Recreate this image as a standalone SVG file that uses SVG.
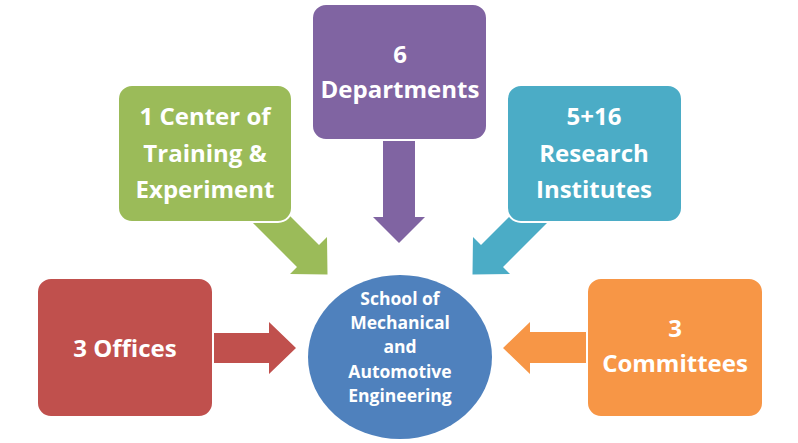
<svg xmlns="http://www.w3.org/2000/svg" width="798" height="443" viewBox="0 0 798 443">
<style>
.box{stroke:#ffffff;stroke-width:2}
.t{font-family:"Open Sans","Liberation Sans",sans-serif;font-weight:bold;font-size:24px;fill:#ffffff;text-anchor:middle}
.c{font-size:17.5px}
</style>
<rect width="798" height="443" fill="#ffffff"/>
<g id="connectors">
<polygon points="250,220 272,198 319,245 327,237 327.5,274.5 290,274 297,267" fill="#9BBB59"/>
<polygon points="550,220 528,198 481,245 473,237 472.5,274.5 510,274 503,267" fill="#4BACC6"/>
<polygon points="383,130 415,130 415,217 425,217 399,243 373,217 383,217" fill="#8064A2"/>
<polygon points="205,333 269,333 269,322 296,348 269,374 269,363 205,363" fill="#C0504D"/>
<polygon points="595,332 530,332 530,322 503,348 530,374 530,363 595,363" fill="#F79646"/>
</g>
<g id="center">
<ellipse cx="400" cy="357" rx="92" ry="82" fill="#4F81BD"/>
<text class="t c" x="400" y="305">School of</text>
<text class="t c" x="400" y="329">Mechanical</text>
<text class="t c" x="400" y="353">and</text>
<text class="t c" x="400" y="378">Automotive</text>
<text class="t c" x="400" y="402">Engineering</text>
</g>
<g id="center-training">
<rect class="box" x="118" y="85" width="174" height="137" rx="14" fill="#9BBB59"/>
<text class="t" x="205" y="125">1 Center of</text>
<text class="t" x="205" y="162">Training &amp;</text>
<text class="t" x="205" y="198">Experiment</text>
</g>
<g id="departments">
<rect class="box" x="312" y="4" width="175" height="136" rx="14" fill="#8064A2"/>
<text class="t" x="400" y="63">6</text>
<text class="t" x="400" y="98">Departments</text>
</g>
<g id="institutes">
<rect class="box" x="507" y="85" width="175" height="137" rx="14" fill="#4BACC6"/>
<text class="t" x="594" y="125">5+16</text>
<text class="t" x="594" y="162">Research</text>
<text class="t" x="594" y="198">Institutes</text>
</g>
<g id="offices">
<rect class="box" x="37" y="278" width="176" height="139" rx="14" fill="#C0504D"/>
<text class="t" x="125" y="357">3 Offices</text>
</g>
<g id="committees">
<rect class="box" x="587" y="278" width="176" height="139" rx="14" fill="#F79646"/>
<text class="t" x="675" y="337">3</text>
<text class="t" x="675" y="372">Committees</text>
</g>
</svg>
